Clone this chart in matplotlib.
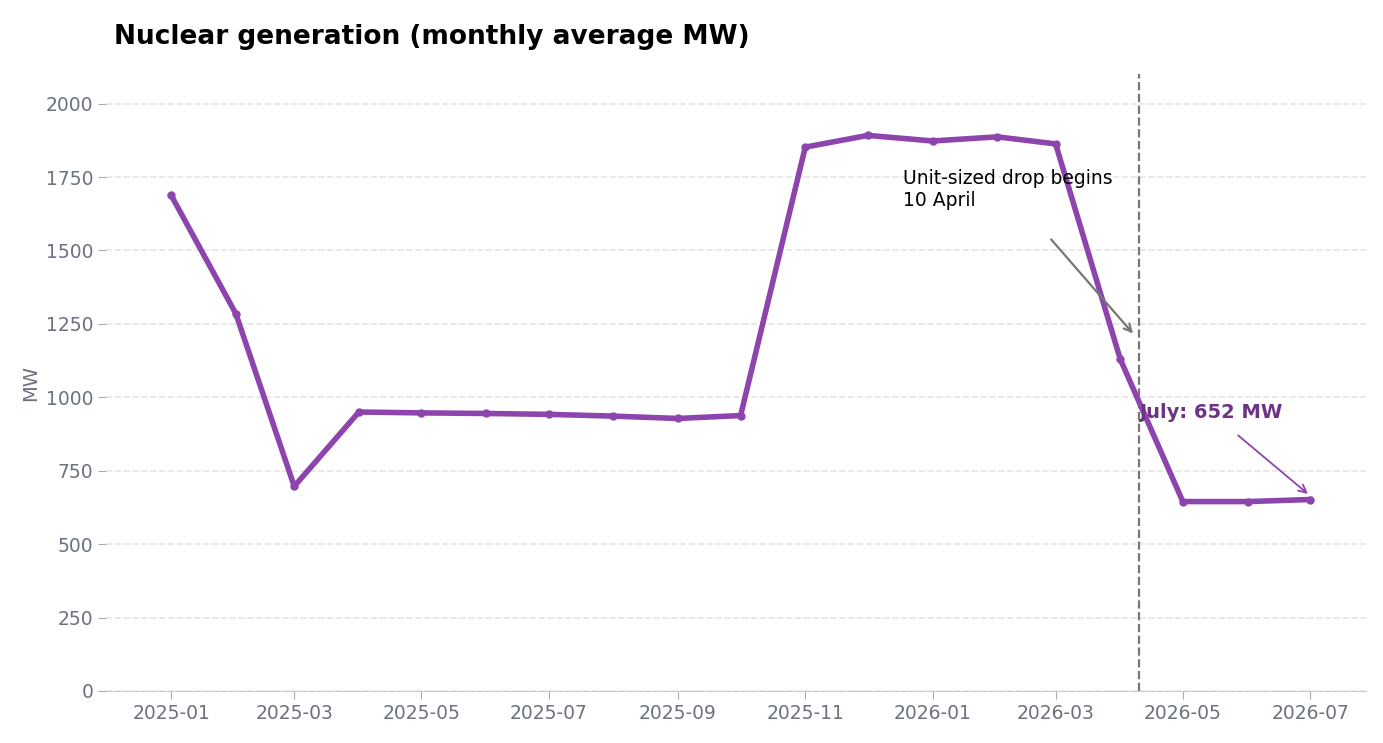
import matplotlib
matplotlib.use("Agg")
import matplotlib.pyplot as plt
import matplotlib.dates as mdates
import numpy as np

months = np.arange(np.datetime64("2025-01"), np.datetime64("2026-08"), np.timedelta64(1, "M")).astype("datetime64[D]")
nuclear_mw = [1688, 1285, 697, 950, 947, 945, 942, 936, 928, 938,
              1852, 1892, 1873, 1887, 1863, 1130, 645, 645, 652]
drop_date = np.datetime64("2026-04-10")

purple = "#8e44ad"
grey = "#6b7280"

fig, ax = plt.subplots(figsize=(13.83, 7.43), dpi=100)
fig.subplots_adjust(left=0.077, right=0.988, top=0.9, bottom=0.07)

ax.plot(months, nuclear_mw, color=purple, lw=4, marker="o", ms=5, zorder=3)
ax.axvline(drop_date, color="#777777", ls="--", lw=1.6)

ax.annotate("Unit-sized drop begins\n10 April", xy=(np.datetime64("2026-04-08"), 1210),
            xytext=(np.datetime64("2025-12-18"), 1650), fontsize=13.5, color="black",
            arrowprops=dict(arrowstyle="->", color="#777777", lw=1.6, shrinkA=25))
ax.annotate("July: 652 MW", xy=(months[-1], 665),
            xytext=(np.datetime64("2026-04-10"), 930), fontsize=14, fontweight="bold", color="#6c3483",
            arrowprops=dict(arrowstyle="->", color=purple, lw=1.3, shrinkA=12))

ax.set_title("Nuclear generation (monthly average MW)", loc="left", fontsize=19,
             fontweight="bold", pad=22, x=0.006)
ax.set_ylabel("MW", color=grey, fontsize=14)
ax.set_ylim(0, 2100)
ax.set_yticks(range(0, 2001, 250))
ax.set_xlim(np.datetime64("2024-12-01"), np.datetime64("2026-07-28"))
ax.xaxis.set_major_locator(mdates.MonthLocator(bymonth=[1, 3, 5, 7, 9, 11]))
ax.xaxis.set_major_formatter(mdates.DateFormatter("%Y-%m"))
ax.tick_params(colors=grey, labelsize=13.5, length=6)
ax.tick_params(axis="both", color="#aaaaaa")
ax.grid(axis="y", ls="--", color="#e5e5e5", lw=1.2)
for s in ["top", "right", "left"]:
    ax.spines[s].set_visible(False)
ax.spines["bottom"].set_color("#cccccc")

fig.savefig("out.png", dpi=100)
